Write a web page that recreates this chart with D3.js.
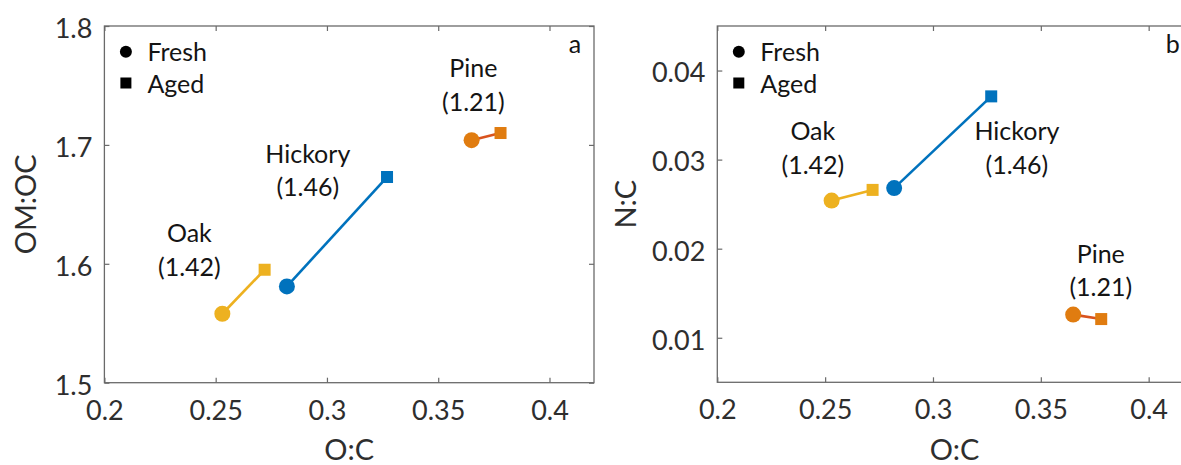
<!DOCTYPE html>
<html>
<head>
<meta charset="utf-8">
<script src="https://cdn.jsdelivr.net/npm/d3@7"></script>
<style>
  html, body { margin: 0; padding: 0; background: #fff; }
  svg { display: block; font-family: Lato, "Open Sans", sans-serif; }
</style>
</head>
<body>
<svg id="chart" width="1181" height="465"></svg>
<script>
// Wood species and their H/C ratio labels
const woods = ["Oak", "Hickory", "Pine"];
const woodRatios = ["(1.42)", "(1.46)", "(1.21)"];

// O:C for fresh and aged aerosol
const ocFresh = [0.253, 0.282, 0.365];
const ocAged  = [0.272, 0.327, 0.378];

// OM:OC for fresh and aged aerosol
const omocFresh = [1.558, 1.581, 1.704];
const omocAged  = [1.595, 1.673, 1.710];

// N:C for fresh and aged aerosol
const ncFresh = [0.0254, 0.0268, 0.0126];
const ncAged  = [0.0266, 0.0371, 0.0121];

// Axis ticks
const ocTicks   = [0.2, 0.25, 0.3, 0.35, 0.4];
const omocTicks = [1.5, 1.6, 1.7, 1.8];
const ncTicks   = [0.01, 0.02, 0.03, 0.04];

// Species colours
const markerColors = ["#EDB120", "#0072BD", "#E07C10"];
const lineColors   = ["#EDB120", "#0072BD", "#D9531E"];

const svg = d3.select("#chart");
const axisColor = "#6a6a6a";
const textColor = "#2e2e2e";

function drawPanel(cfg) {
  const x = d3.scaleLinear().domain(cfg.xDomain).range([cfg.left, cfg.right]);
  const y = d3.scaleLinear().domain(cfg.yDomain).range([cfg.bottom, cfg.top]);
  const g = svg.append("g");

  // plot frame
  g.append("rect")
    .attr("x", cfg.left).attr("y", cfg.top)
    .attr("width", cfg.right - cfg.left).attr("height", cfg.bottom - cfg.top)
    .attr("fill", "none").attr("stroke", axisColor).attr("stroke-width", 1.3);

  const fmt = d => String(d);

  // bottom axis with inward ticks
  const gx = g.append("g").attr("transform", `translate(0,${cfg.bottom})`)
    .call(d3.axisBottom(x).tickValues(ocTicks).tickSizeInner(-5).tickSizeOuter(0).tickFormat(fmt));
  gx.select(".domain").remove();
  gx.selectAll("line").attr("stroke", axisColor).attr("stroke-width", 1.2);
  gx.selectAll("text").attr("y", 37).attr("dy", null)
    .attr("fill", textColor).style("font-size", "27px").style("font-family", "Lato");

  // top mirror ticks
  const gxt = g.append("g").attr("transform", `translate(0,${cfg.top})`)
    .call(d3.axisTop(x).tickValues(ocTicks).tickSizeInner(-5).tickSizeOuter(0).tickFormat(""));
  gxt.select(".domain").remove();
  gxt.selectAll("line").attr("stroke", axisColor).attr("stroke-width", 1.2);

  // left axis with inward ticks
  const gy = g.append("g").attr("transform", `translate(${cfg.left},0)`)
    .call(d3.axisLeft(y).tickValues(cfg.yTicks).tickSizeInner(-5).tickSizeOuter(0).tickFormat(fmt));
  gy.select(".domain").remove();
  gy.selectAll("line").attr("stroke", axisColor).attr("stroke-width", 1.2);
  gy.selectAll("text").attr("x", -12).attr("dy", "0.42em")
    .attr("fill", textColor).style("font-size", "27px").style("font-family", "Lato");

  // right mirror ticks
  const gyr = g.append("g").attr("transform", `translate(${cfg.right},0)`)
    .call(d3.axisRight(y).tickValues(cfg.yTicks).tickSizeInner(-5).tickSizeOuter(0).tickFormat(""));
  gyr.select(".domain").remove();
  gyr.selectAll("line").attr("stroke", axisColor).attr("stroke-width", 1.2);

  // axis titles
  g.append("text")
    .attr("x", (cfg.left + cfg.right) / 2).attr("y", 460)
    .attr("text-anchor", "middle").attr("fill", textColor)
    .style("font-size", "29px").text("O:C");
  g.append("text")
    .attr("transform", `translate(${cfg.yTitleX},${(cfg.top + cfg.bottom) / 2}) rotate(-90)`)
    .attr("text-anchor", "middle").attr("fill", textColor)
    .style("font-size", "29px").text(cfg.yTitle);

  // fresh -> aged connectors
  woods.forEach((w, i) => {
    g.append("line")
      .attr("x1", x(ocFresh[i])).attr("y1", y(cfg.fresh[i]))
      .attr("x2", x(ocAged[i])).attr("y2", y(cfg.aged[i]))
      .attr("stroke", lineColors[i]).attr("stroke-width", 2.6);
  });

  // aged (squares)
  const sq = 12;
  woods.forEach((w, i) => {
    g.append("rect")
      .attr("x", x(ocAged[i]) - sq / 2).attr("y", y(cfg.aged[i]) - sq / 2)
      .attr("width", sq).attr("height", sq)
      .attr("fill", markerColors[i]);
  });
  // fresh (circles)
  woods.forEach((w, i) => {
    g.append("circle")
      .attr("cx", x(ocFresh[i])).attr("cy", y(cfg.fresh[i])).attr("r", 8)
      .attr("fill", markerColors[i]);
  });

  // species labels
  woods.forEach((w, i) => {
    const [lx, ly] = cfg.labelAt[i];
    const t = g.append("text")
      .attr("text-anchor", "middle").attr("fill", "#141414")
      .style("font-size", "25px");
    t.append("tspan").attr("x", x(lx)).attr("y", y(ly)).attr("dy", "0.36em").text(w);
    t.append("tspan").attr("x", x(lx)).attr("y", y(ly) + 33.4).attr("dy", "0.36em").text(woodRatios[i]);
  });

  // legend
  const lgX = cfg.left + 21.5;
  g.append("circle").attr("cx", lgX).attr("cy", 51.7).attr("r", 6).attr("fill", "#000");
  g.append("rect").attr("x", lgX - 5.5).attr("y", 83 - 5.5).attr("width", 11).attr("height", 11).attr("fill", "#000");
  g.append("text").attr("x", lgX + 21.5).attr("y", 51.7).attr("dy", "0.36em")
    .attr("fill", "#141414").style("font-size", "25px").text("Fresh");
  g.append("text").attr("x", lgX + 21.5).attr("y", 84).attr("dy", "0.36em")
    .attr("fill", "#141414").style("font-size", "25px").text("Aged");

  // panel letter
  g.append("text").attr("x", cfg.right - 19).attr("y", 53)
    .attr("text-anchor", "middle").attr("fill", "#141414")
    .style("font-size", "25px").text(cfg.letter);
}

// (a) OM:OC vs O:C
drawPanel({
  left: 104.4, right: 594, top: 26, bottom: 382.7,
  xDomain: [0.2, 0.42], yDomain: [1.5, 1.8], yTicks: omocTicks,
  fresh: omocFresh, aged: omocAged,
  yTitle: "OM:OC", yTitleX: 36, letter: "a",
  labelAt: [[0.2382, 1.6257], [0.2914, 1.6923], [0.3658, 1.7644]]
});

// (b) N:C vs O:C
drawPanel({
  left: 717.3, right: 1191.8, top: 26, bottom: 382.3,
  xDomain: [0.2, 0.42], yDomain: [0.005, 0.045], yTicks: ncTicks,
  fresh: ncFresh, aged: ncAged,
  yTitle: "N:C", yTitleX: 636, letter: "b",
  labelAt: [[0.2443, 0.03316], [0.3389, 0.03316], [0.3778, 0.0194]]
});
</script>
</body>
</html>
